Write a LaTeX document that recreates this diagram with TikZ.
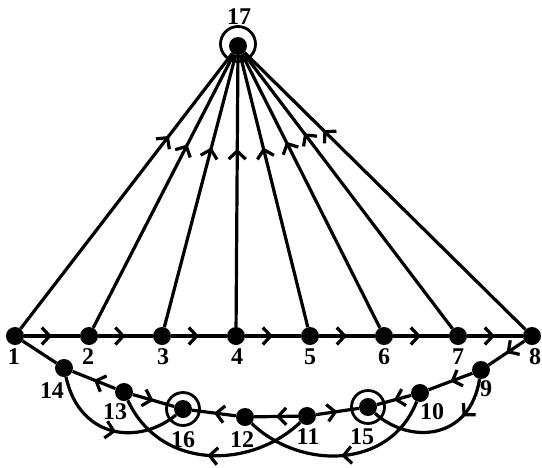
\documentclass[tikz,border=0pt]{standalone}
\usepackage{fontspec}
\setmainfont{Liberation Serif}
\usetikzlibrary{arrows.meta,decorations.markings}
\begin{document}
\begin{tikzpicture}[x=1pt,y=-1pt,
  dot/.style={circle,fill=black,minimum size=18pt,inner sep=0pt},
  ring/.style={circle,draw,line width=2.8pt,minimum size=33pt,inner sep=0pt},
  lab/.style={font=\fontsize{24}{24}\selectfont\bfseries,inner sep=0pt},
  ln/.style={line width=3.2pt},
  am/.style={postaction={decorate},decoration={markings,mark=at position #1 with {\arrow{Straight Barb[length=8pt,width=17pt]}}}},
  am/.default=0.5]
\useasboundingbox (0,0) rectangle (542,467);
% nodes
\node[dot] (n1) at (15,336) {};
\node[dot] (n2) at (89,336) {};
\node[dot] (n3) at (162,336) {};
\node[dot] (n4) at (236,336) {};
\node[dot] (n5) at (310,336) {};
\node[dot] (n6) at (384,336) {};
\node[dot] (n7) at (458,336) {};
\node[dot] (n8) at (532,336) {};
\node[dot] (n9) at (481,370) {};
\node[dot] (n10) at (420,393) {};
\node[dot] (n11) at (307,416) {};
\node[dot] (n12) at (245,417) {};
\node[dot] (n13) at (124,392) {};
\node[dot] (n14) at (64,368) {};
\node[dot] (n15) at (368,407) {};
\node[dot] (n16) at (183,409) {};
\node[dot] (n17) at (238,46) {};
\node[ring] (r15) at (368,407) {};
\node[ring] (r16) at (183,409) {};
\node[ring,minimum size=35pt] (r17) at (238,44) {};
% labels
\node[lab] (l1) at (14,357) {1};
\node[lab] (l2) at (88,357) {2};
\node[lab] (l3) at (163,357) {3};
\node[lab] (l4) at (237,357) {4};
\node[lab] (l5) at (310,357) {5};
\node[lab] (l6) at (384,357) {6};
\node[lab] (l7) at (458,357) {7};
\node[lab] (l8) at (535,357) {8};
\node[lab] (l9) at (486,389) {9};
\node[lab] (l10) at (432,412) {10};
\node[lab] (l11) at (308,437) {11};
\node[lab] (l12) at (242,440) {12};
\node[lab] (l13) at (115,412) {13};
\node[lab] (l14) at (52,391) {14};
\node[lab] (l15) at (362,437) {15};
\node[lab] (l16) at (183,440) {16};
\node[lab] (l17) at (239,17) {17};
% edges to 17
\draw[ln,am=0.70] (n1) -- (n17);
\draw[ln,am=0.67] (n2) -- (n17);
\draw[ln,am=0.66] (n3) -- (n17);
\draw[ln,am=0.655] (n4) -- (n17);
\draw[ln,am=0.66] (n5) -- (n17);
\draw[ln,am=0.68] (n6) -- (n17);
\draw[ln,am=0.71] (n7) -- (n17);
\draw[ln,am=0.72] (n8) -- (n17);
% horizontal chain
\draw[ln,am] (n1) -- (n2);
\draw[ln,am] (n2) -- (n3);
\draw[ln,am] (n3) -- (n4);
\draw[ln,am] (n4) -- (n5);
\draw[ln,am] (n5) -- (n6);
\draw[ln,am] (n6) -- (n7);
\draw[ln,am] (n7) -- (n8);
% lower chain
\draw[ln,am] (n8) -- (n9);
\draw[ln,am] (n9) -- (n10);
\draw[ln,am] (n10) -- (n15);
\draw[ln] (n1) -- (n14);
\draw[ln,am] (n13) -- (n14);
\draw[ln,am] (n13) -- (n16);
\draw[ln,am] (n12) -- (n16);
\draw[ln,am] (n11) -- (n12);
\draw[ln,am] (n11) -- (n15);
% curves
\draw[ln,am=0.55] (n14) .. controls (80,440) and (140,445) .. (n16);
\draw[ln,am=0.3] (n9) .. controls (470,440) and (410,445) .. (n15);
\draw[ln,am] (n11) .. controls (250,470) and (160,470) .. (n13);
\draw[ln,am] (n10) .. controls (390,470) and (300,470) .. (n12);
\end{tikzpicture}
\end{document}
